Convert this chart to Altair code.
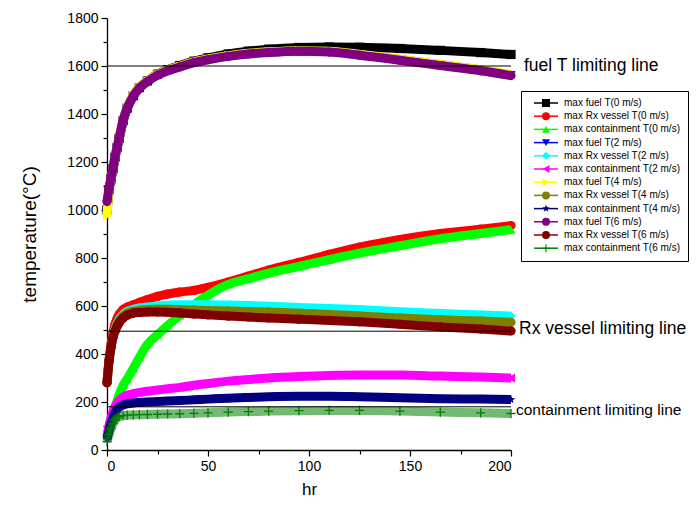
import altair as alt
import pandas as pd

# ---------------- data ----------------
hours = [0, 1, 2, 3, 4, 5, 6, 8, 10, 13, 16, 20, 25, 30, 36, 43, 50, 60, 70, 80, 95, 110, 125, 145, 165, 185, 200]

series_names = [
    "max fuel T(0 m/s)", "max Rx vessel T(0 m/s)", "max containment T(0 m/s)",
    "max fuel T(2 m/s)", "max Rx vessel T(2 m/s)", "max containment T(2 m/s)",
    "max fuel T(4 m/s)", "max Rx vessel T(4 m/s)", "max containment T(4 m/s)",
    "max fuel T(6 m/s)", "max Rx vessel T(6 m/s)", "max containment T(6 m/s)",
]

fuel_0 = [1000, 1085, 1130, 1172, 1220, 1260, 1298, 1373, 1425, 1476, 1510, 1538, 1566, 1585, 1602, 1620, 1634, 1650, 1662, 1670, 1677, 1679, 1678, 1673, 1665, 1656, 1648]
rx_0 = [280, 375, 440, 490, 525, 548, 565, 585, 595, 605, 615, 627, 640, 650, 658, 665, 678, 700, 725, 750, 782, 815, 845, 877, 902, 920, 935]
cont_0 = [60, 100, 130, 157, 182, 205, 230, 270, 296, 340, 385, 440, 480, 518, 560, 605, 645, 690, 714, 737, 765, 793, 820, 851, 880, 902, 918]
fuel_2 = [990, 1080, 1128, 1170, 1218, 1257, 1295, 1370, 1422, 1473, 1507, 1535, 1563, 1582, 1598, 1616, 1628, 1642, 1652, 1658, 1663, 1660, 1648, 1627, 1605, 1583, 1563]
rx_2 = [280, 372, 432, 475, 505, 528, 545, 565, 577, 586, 592, 596, 600, 603, 605, 605, 605, 604, 602, 599, 594, 590, 585, 576, 569, 563, 558]
cont_2 = [55, 100, 135, 160, 180, 195, 207, 220, 228, 235, 240, 245, 250, 255, 261, 270, 277, 287, 294, 300, 306, 310, 312, 312, 308, 304, 300]
fuel_4 = [975, 1082, 1132, 1174, 1222, 1262, 1300, 1376, 1428, 1478, 1511, 1538, 1565, 1583, 1599, 1617, 1629, 1643, 1653, 1659, 1664, 1661, 1649, 1628, 1606, 1585, 1565]
rx_4 = [280, 370, 430, 472, 500, 522, 538, 558, 570, 578, 582, 585, 586, 586, 585, 583, 581, 579, 577, 575, 570, 565, 558, 550, 543, 537, 532]
cont_4 = [45, 80, 110, 135, 155, 168, 178, 187, 192, 196, 198, 200, 202, 204, 206, 209, 212, 216, 219, 222, 224, 224, 222, 218, 214, 212, 210]
fuel_6 = [1035, 1090, 1135, 1175, 1225, 1262, 1300, 1375, 1425, 1475, 1508, 1535, 1562, 1580, 1596, 1614, 1626, 1640, 1650, 1656, 1661, 1658, 1645, 1624, 1602, 1580, 1560]
rx_6 = [280, 370, 428, 470, 495, 515, 530, 550, 562, 570, 573, 575, 575, 574, 571, 567, 563, 558, 554, 550, 545, 540, 534, 524, 513, 504, 496]
cont_6 = [35, 65, 90, 110, 125, 133, 139, 143, 145, 146, 147, 148, 149, 150, 151, 153, 155, 158, 160, 162, 164, 165, 165, 162, 158, 155, 152]

series_values = [fuel_0, rx_0, cont_0, fuel_2, rx_2, cont_2, fuel_4, rx_4, cont_4, fuel_6, rx_6, cont_6]

limit_values = [1600, 495, 180]
limit_labels = ["fuel T limiting line", "Rx vessel limiting line", "containment limiting line"]

# ---------------- styles ----------------
colors = ["#000000", "#FF0000", "#00FF00", "#0000FF", "#00FFFF", "#FF00FF",
          "#FFFF00", "#808000", "#000080", "#800080", "#800000", "#008000"]
STAR = "M0,-1L0.235,-0.324L0.951,-0.309L0.38,0.124L0.588,0.809L0,0.4L-0.588,0.809L-0.38,0.124L-0.951,-0.309L-0.235,-0.324Z"
PLUS = "M-1,-0.14H1V0.14H-1Z M-0.14,-1H0.14V1H-0.14Z"
shapes = ["square", "circle", "triangle-up", "triangle-down", "diamond", "triangle-left",
          "triangle-right", "circle", STAR, "circle", "circle", PLUS]
label_dx = [13, 8, 5]
label_dy = [0, -2, 3]
label_size = [17.5, 17.5, 15.5]

FONT = "Liberation Sans"

rows = []
for name, vals in zip(series_names, series_values):
    for t, v in zip(hours, vals):
        rows.append({"hr": t, "temp": v, "series": name, "sl": name + " "})
df = pd.DataFrame(rows)

lim_df = pd.DataFrame({"hr": [0] * 3, "hr2": [200] * 3, "temp": limit_values, "label": limit_labels})

x_scale = alt.Scale(domain=[0, 200], nice=False, zero=False)
y_scale = alt.Scale(domain=[0, 1800], nice=False)
x_axis = alt.Axis(
    values=list(range(0, 201, 25)),
    labelExpr="datum.value % 50 == 0 ? datum.label : ''",
    tickSize={"condition": {"test": "datum.value % 50 == 0", "value": 6}, "value": 4},
    grid=False, domainColor="black", domainWidth=1.3, tickColor="black", tickWidth=1.2,
    labelFont=FONT, labelFontSize=14, labelColor="black", labelPadding=3,
    titleFont=FONT, titleFontSize=17, titleFontWeight="normal", titleColor="black", titlePadding=8,
)
y_axis = alt.Axis(
    values=list(range(0, 1801, 100)), format="d",
    labelExpr="datum.value % 200 == 0 ? datum.label : ''",
    tickSize={"condition": {"test": "datum.value % 200 == 0", "value": 6}, "value": 4},
    grid=False, domainColor="black", domainWidth=1.3, tickColor="black", tickWidth=1.2,
    labelFont=FONT, labelFontSize=14, labelColor="black", labelPadding=3,
    titleFont=FONT, titleFontSize=19, titleFontWeight="normal", titleColor="black", titlePadding=27,
)


def X(field):
    return alt.X(f"{field}:Q", scale=x_scale, axis=x_axis, title="hr")


def Y():
    return alt.Y("temp:Q", scale=y_scale, axis=y_axis, title="temperature(°C)")


common_legend = dict(
    orient="none", legendX=414, legendY=73, title=None,
    labelFont=FONT, labelFontSize=10, labelColor="black",
    symbolSize=64, symbolOffset=13, labelOffset=13, rowPadding=3.2, padding=7,
)
legend_lines = alt.Legend(symbolType="M-3,0H3", symbolStrokeWidth=1.5, symbolFillColor="transparent",
                          labelOpacity=0, **common_legend)
legend_pts = alt.Legend(strokeColor="black", **common_legend)

stroke_enc = alt.Stroke("sl:N", scale=alt.Scale(domain=[n + " " for n in series_names], range=colors),
                        legend=legend_lines)
color_enc = alt.Color("series:N", scale=alt.Scale(domain=series_names, range=colors), legend=legend_pts)
shape_enc = alt.Shape("series:N", scale=alt.Scale(domain=series_names, range=shapes), legend=legend_pts)

layers = []
for i, name in enumerate(series_names):
    base = alt.Chart(df).transform_filter(alt.datum.series == name)
    line_opacity = 0.55 if i == 11 else 1
    layers.append(
        base.mark_line(strokeWidth=9, interpolate="monotone", opacity=line_opacity)
        .encode(x=X("hr"), y=Y(), stroke=stroke_enc)
    )
    layers.append(
        base.mark_point(filled=True, size=85, opacity=1)
        .encode(x=X("hr"), y=Y(), color=color_enc, shape=shape_enc)
    )

rules = alt.Chart(lim_df).mark_rule(color="black", strokeWidth=1).encode(
    x=X("hr"), x2="hr2", y=Y()
)
layers.append(rules)

for j, lab in enumerate(limit_labels):
    layers.append(
        alt.Chart(lim_df).transform_filter(alt.datum.label == lab)
        .mark_text(align="left", baseline="middle", dx=label_dx[j], dy=label_dy[j],
                   font=FONT, fontSize=label_size[j], color="black")
        .encode(x=X("hr2"), y=Y(), text="label:N")
    )

chart = alt.layer(*layers).properties(
    width=404, height=432,
    padding={"left": 99, "top": 10, "right": 179, "bottom": 48},
    autosize=alt.AutoSizeParams(type="none"),
).configure_view(stroke=None)

chart.save("out.html", embed_options={"renderer": "svg", "actions": False})
